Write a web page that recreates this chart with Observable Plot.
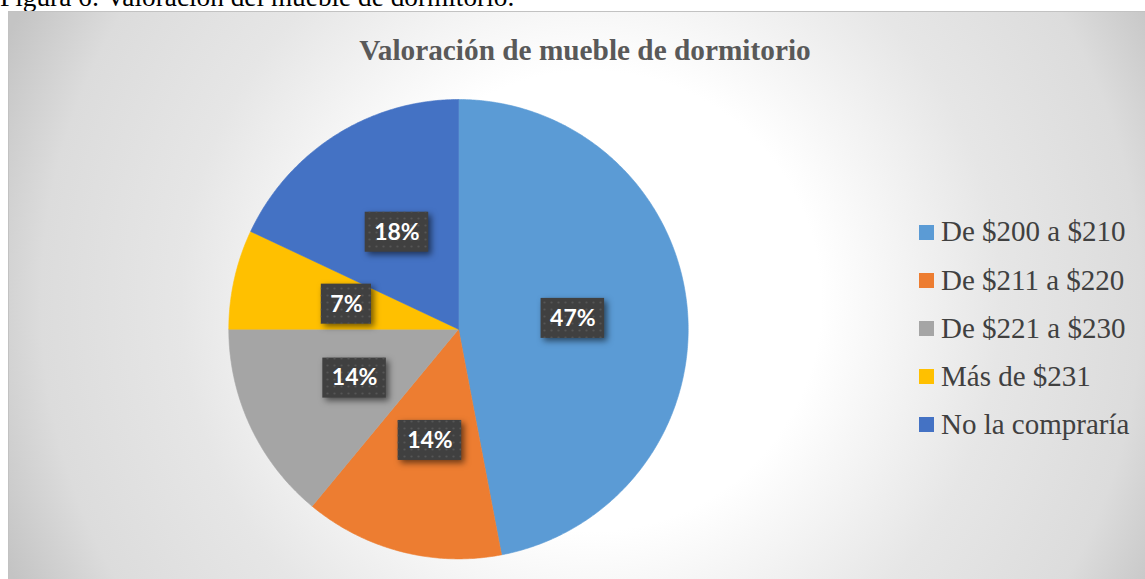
<!DOCTYPE html>
<html>
<head>
<meta charset="utf-8">
<script src="https://cdn.jsdelivr.net/npm/d3@7"></script>
<script src="https://cdn.jsdelivr.net/npm/@observablehq/plot@0.6"></script>
<style>
  html, body { margin: 0; padding: 0; background: #ffffff; overflow: hidden; }
  #page { position: relative; width: 1145px; height: 579px; overflow: hidden; }
  #caption { position: absolute; left: 0; top: -15.9px; font-family: "Liberation Serif", "Times New Roman", serif;
    font-size: 27.3px; line-height: 1; color: #000; white-space: nowrap; }
  #box { position: absolute; left: 8px; top: 11px; width: 1160px; height: 600px; border: 1px solid #c2c2c2;
    background: radial-gradient(circle at 582px 289px, #ffffff 0px, #ffffff 230px, #e6e6e6 410px, #dcdcdc 550px, #c4c4c4 640px); }
  #chart { position: absolute; left: 0; top: 0; }
  #title { position: absolute; left: 0; width: 1170px; top: 35.5px; text-align: center;
    font-family: "Liberation Serif", "Times New Roman", serif; font-weight: bold; font-size: 29.3px; line-height: 1;
    color: #595959; white-space: nowrap; }
  .leg-sw { position: absolute; width: 15px; height: 15px; }
  .leg-tx { position: absolute; font-family: "Liberation Serif", "Times New Roman", serif; font-size: 29px;
    line-height: 1; color: #404040; white-space: nowrap; }
</style>
</head>
<body>
<div id="page">
  <div id="caption">Figura 6: Valoración del mueble de dormitorio.</div>
  <div id="box"><div id="chart"></div></div>
  <div id="title">Valoración de mueble de dormitorio</div>
</div>
<script>
// ---- data ----
const categories = ["De $200 a $210", "De $211 a $220", "De $221 a $230", "Más de $231", "No la compraría"];
const values = [47, 14, 14, 7, 18];
const labels = ["47%", "14%", "14%", "7%", "18%"];
const colors = ["#5B9BD5", "#ED7D31", "#A5A5A5", "#FFC000", "#4472C4"];

// ---- layout ----
const W = 1136, H = 567;
const cx = 449, cy = 316.7, R = 229.7;

const arcs = d3.pie().sort(null).value(d => d)(values);
const slicePts = [];
arcs.forEach((a, i) => {
  slicePts.push({cat: categories[i], x: 0, y: 0});
  const n = Math.max(2, Math.ceil((a.endAngle - a.startAngle) / (Math.PI / 360)));
  for (let k = 0; k <= n; k++) {
    const t = a.startAngle + (a.endAngle - a.startAngle) * k / n;
    slicePts.push({cat: categories[i], x: Math.sin(t), y: Math.cos(t)});
  }
  slicePts.push({cat: categories[i], x: 0, y: 0});
});

const labelFont = 23;
const ctx = document.createElement("canvas").getContext("2d");
ctx.font = `bold ${labelFont}px Lato`;
const labelData = arcs.map((a, i) => {
  const m = (a.startAngle + a.endAngle) / 2;
  const tw = ctx.measureText(labels[i]).width;
  return {cat: categories[i], label: labels[i], x: 0.5 * Math.sin(m), y: 0.5 * Math.cos(m),
          hw: (tw + 18) / 2 / R, hh: 20 / R};
});

const chart = Plot.plot({
  width: W, height: H,
  marginLeft: cx - R, marginRight: W - cx - R, marginTop: cy - R, marginBottom: H - cy - R,
  x: {domain: [-1, 1], axis: null},
  y: {domain: [-1, 1], axis: null},
  color: {domain: categories, range: colors},
  style: {background: "transparent", overflow: "visible"},
  marks: [
    Plot.line(slicePts, {x: "x", y: "y", z: "cat", fill: "cat", stroke: "cat", strokeWidth: 0.6, curve: "linear"}),
    Plot.rect(labelData, {x1: d => d.x - d.hw, x2: d => d.x + d.hw, y1: d => d.y - d.hh, y2: d => d.y + d.hh, fill: "#404040"}),
    Plot.rect(labelData, {x1: d => d.x - d.hw, x2: d => d.x + d.hw, y1: d => d.y - d.hh, y2: d => d.y + d.hh, fill: "url(#dots)"}),
    Plot.text(labelData, {x: "x", y: "y", text: "label", fill: "white", fontSize: labelFont, fontWeight: "bold", fontFamily: "Lato"})
  ]
});

// dotted texture + shadow for label boxes
const ns = "http://www.w3.org/2000/svg";
const defs = document.createElementNS(ns, "defs");
defs.innerHTML = '<pattern id="dots" width="7" height="7" patternUnits="userSpaceOnUse">' +
  '<circle cx="3.5" cy="3.5" r="1.1" fill="#565656"/></pattern>';
chart.insertBefore(defs, chart.firstChild);
const rectGroups = chart.querySelectorAll('g[aria-label="rect"]');
if (rectGroups.length) rectGroups[0].style.filter = "drop-shadow(3px 3px 3px rgba(0,0,0,0.55))";

document.getElementById("chart").appendChild(chart);

// ---- legend ----
const page = document.getElementById("page");
const fs = 29;
categories.forEach((c, i) => {
  const base = 241.7 + i * 48.1;
  const sw = document.createElement("div");
  sw.className = "leg-sw";
  sw.style.left = "919px";
  sw.style.top = (base - 16.7) + "px";
  sw.style.background = colors[i];
  page.appendChild(sw);
  const tx = document.createElement("div");
  tx.className = "leg-tx";
  tx.style.left = "941px";
  tx.style.top = (base - 0.8375 * fs) + "px";
  tx.textContent = c;
  page.appendChild(tx);
});
</script>
</body>
</html>
